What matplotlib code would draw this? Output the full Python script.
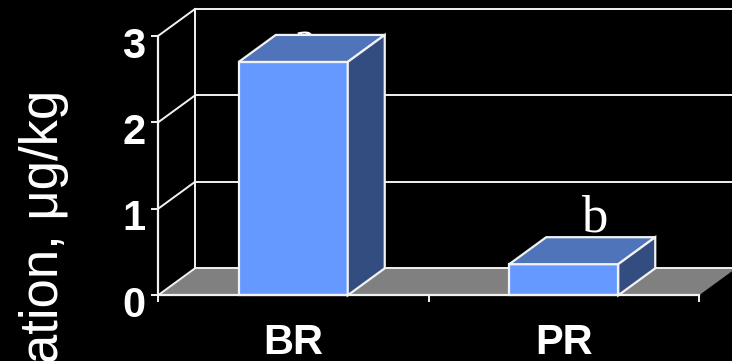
import matplotlib
matplotlib.use("Agg")
import matplotlib.pyplot as plt
from matplotlib.patches import Polygon
from matplotlib.transforms import ScaledTranslation

categories = ["BR", "PR"]
values = [2.70, 0.36]
letters = ["a", "b"]
y_ticks = [0, 1, 2, 3]
y_label = "Concentration, μg/kg"

W, H = 732, 361
LINE = "#f2f2f2"
FRONT, TOP, SIDE, FLOOR = "#6699ff", "#4f74ba", "#334d80", "#808080"
SANS = "Liberation Sans"

fig = plt.figure(figsize=(W / 100, H / 100), dpi=100, facecolor="black")
ax = fig.add_axes([158 / W, 1 - 295.3 / H, (699 - 158) / W, (295.3 - 36) / H])
ax.set_facecolor("none")
ax.set_xlim(0, len(categories))
ax.set_ylim(0, 3)

# Depth of the 3-D box and bar width, in data units
dx = 37 / (541 / 2)
dy = 27 / (259.3 / 3)
bar_w = 109 / (541 / 2)
x_end = 2 + 60 / (541 / 2)

# Floor
ax.add_patch(Polygon([(0, 0), (2, 0), (2 + dx, dy), (dx, dy)], closed=True,
                     fc=FLOOR, ec="none", clip_on=False, zorder=1))
ax.plot([dx, x_end], [dy, dy], color=LINE, lw=1.4, clip_on=False, zorder=1.5)

# Back wall and side wall grid
for t in y_ticks[1:]:
    ax.plot([dx, x_end], [t + dy, t + dy], color=LINE, lw=1.4, clip_on=False, zorder=1.5)
for t in y_ticks:
    ax.plot([0, dx], [t, t + dy], color=LINE, lw=1.4, clip_on=False, zorder=1.5)
ax.plot([dx, dx], [dy, 3 + dy], color=LINE, lw=1.4, clip_on=False, zorder=1.5)

# Bars drawn as three faces; letters sit behind them
for i, (v, letter) in enumerate(zip(values, letters)):
    c = i + 0.5
    l, r = c - bar_w / 2, c + bar_w / 2
    ax.annotate(letter, (c, v), xytext=(30 if i else 11, 33 if i else 5), textcoords="offset pixels",
                family="Liberation Serif", fontsize=38, color="white",
                ha="center", va="baseline", zorder=2, annotation_clip=False)
    faces = [
        ([(l, 0), (r, 0), (r, v), (l, v)], FRONT),
        ([(l, v), (r, v), (r + dx, v + dy), (l + dx, v + dy)], TOP),
        ([(r, 0), (r + dx, dy), (r + dx, v + dy), (r, v)], SIDE),
    ]
    for pts, col in faces:
        ax.add_patch(Polygon(pts, closed=True, fc=col, ec=LINE, lw=1.6,
                             joinstyle="miter", clip_on=False, zorder=3))

# Axes lines, ticks and labels
for side in ("top", "right"):
    ax.spines[side].set_visible(False)
for side in ("left", "bottom"):
    ax.spines[side].set_color(LINE)
    ax.spines[side].set_linewidth(1.6)
    ax.spines[side].set_zorder(4)

ax.set_yticks(y_ticks)
ax.set_yticklabels([str(t) for t in y_ticks], family=SANS, fontweight="bold",
                   fontsize=30, color="white")
ax.tick_params(axis="y", length=5, width=1.4, color=LINE, pad=4)
down = ScaledTranslation(0, -6 / 100, fig.dpi_scale_trans)
for lab in ax.get_yticklabels():
    lab.set_transform(lab.get_transform() + down)

ax.set_xticks(range(len(categories) + 1))
ax.set_xticklabels([])
ax.tick_params(axis="x", which="major", length=5, width=1.4, color=LINE)
ax.set_xticks([i + 0.5 for i in range(len(categories))], minor=True)
ax.set_xticklabels(categories, minor=True, family=SANS, fontweight="bold",
                   fontsize=30, color="white")
ax.tick_params(axis="x", which="minor", length=0, pad=20)

fig.text(44 / W, 1 - 90 / H, y_label, rotation=90, family=SANS, fontsize=38,
         color="white", ha="center", va="top", rotation_mode="default")

fig.savefig("out.png", dpi=100, facecolor="black")
